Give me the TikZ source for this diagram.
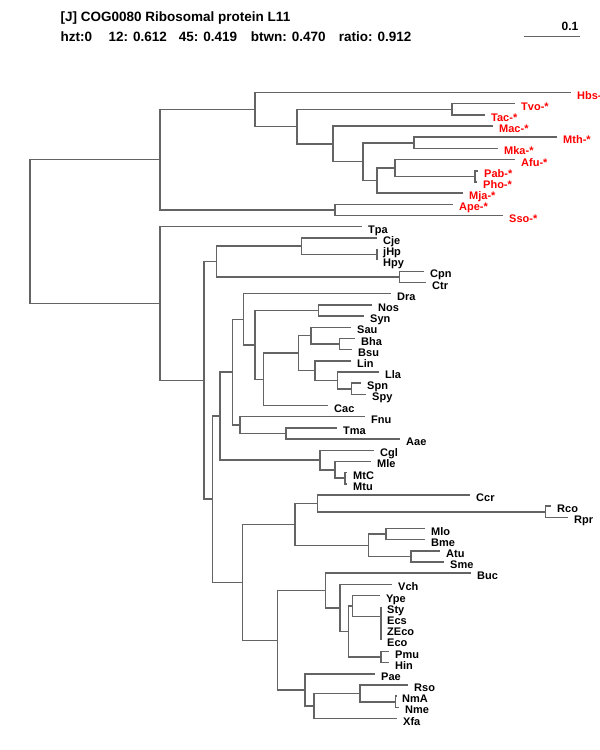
\documentclass[tikz,border=0pt]{standalone}
\usepackage{fontspec}
\setmainfont{Liberation Sans}
\definecolor{treegray}{RGB}{100,100,100}
\definecolor{archred}{RGB}{255,0,0}
\tikzset{
  branch/.style={draw=treegray, line width=1.5pt},
  leaflab/.style={anchor=base west, inner sep=0pt, xshift=6pt, yshift=-6.5pt, font=\fontsize{11}{13}\selectfont\bfseries},
  archlab/.style={leaflab, text=archred},
  bactlab/.style={leaflab, text=black},
  headtxt/.style={anchor=base west, inner sep=0pt, font=\fontsize{13.5}{16}\selectfont\bfseries}
}
\begin{document}
\begin{tikzpicture}[x=1pt, y=-1pt]
\useasboundingbox (0,0) rectangle (600,750);

\node[headtxt] (title) at (60.5,21) {[J] COG0080 Ribosomal protein L11};
\node[headtxt] (hzt) at (60.5,41) {hzt:0};
\node[headtxt] (s12) at (108.3,41) {12: 0.612};
\node[headtxt] (s45) at (178.7,41) {45: 0.419};
\node[headtxt] (btwn) at (250.7,41) {btwn: 0.470};
\node[headtxt] (ratio) at (338.7,41) {ratio: 0.912};

\coordinate (sbl) at (524,36.4);
\coordinate (sbr) at (580,36.4);
\draw[draw=treegray, line width=1.2pt] (sbl) -- (sbr);
\node[anchor=base east, inner sep=0pt, font=\fontsize{12}{14}\selectfont\bfseries] (sblab) at (578.5,30.6) {0.1};

\coordinate (root) at (30,231.6);
\coordinate (arch) at (160,159.7);
\coordinate (bact) at (160,303.55);
\coordinate (a1) at (255,109.5);
\coordinate (a2) at (297,126.56);
\coordinate (tvtc) at (452,109.3);
\coordinate (a3) at (333,143.8);
\coordinate (a4) at (363,161.67);
\coordinate (mtmk) at (414,142.8);
\coordinate (a5) at (377,180.54);
\coordinate (a6) at (395,167.98);
\coordinate (ppho) at (475,176.35);
\coordinate (apso) at (335,209.9);

\coordinate (hbs) at (571,92.5);
\coordinate (tvo) at (515,103.7);
\coordinate (tac) at (485,114.9);
\coordinate (mac) at (493,126.0);
\coordinate (mth) at (557,137.2);
\coordinate (mka) at (498,148.4);
\coordinate (afu) at (515,159.6);
\coordinate (pab) at (478,170.8);
\coordinate (pho) at (477,181.9);
\coordinate (mja) at (463,193.1);
\coordinate (ape) at (453,204.3);
\coordinate (sso) at (503,215.5);

\draw[branch] (root) |- (arch);
\draw[branch] (root) |- (bact);
\draw[branch] (arch) |- (a1);
\draw[branch] (arch) |- (apso);
\draw[branch] (a1) |- (hbs);
\draw[branch] (a1) |- (a2);
\draw[branch] (a2) |- (tvtc);
\draw[branch] (a2) |- (a3);
\draw[branch] (tvtc) |- (tvo);
\draw[branch] (tvtc) |- (tac);
\draw[branch] (a3) |- (mac);
\draw[branch] (a3) |- (a4);
\draw[branch] (a4) |- (mtmk);
\draw[branch] (a4) |- (a5);
\draw[branch] (mtmk) |- (mth);
\draw[branch] (mtmk) |- (mka);
\draw[branch] (a5) |- (a6);
\draw[branch] (a5) |- (mja);
\draw[branch] (a6) |- (afu);
\draw[branch] (a6) |- (ppho);
\draw[branch] (ppho) |- (pab);
\draw[branch] (ppho) |- (pho);
\draw[branch] (apso) |- (ape);
\draw[branch] (apso) |- (sso);

\node[archlab] (lhbs) at (hbs) {Hbs-*};
\node[archlab] (ltvo) at (tvo) {Tvo-*};
\node[archlab] (ltac) at (tac) {Tac-*};
\node[archlab] (lmac) at (mac) {Mac-*};
\node[archlab] (lmth) at (mth) {Mth-*};
\node[archlab] (lmka) at (mka) {Mka-*};
\node[archlab] (lafu) at (afu) {Afu-*};
\node[archlab] (lpab) at (pab) {Pab-*};
\node[archlab] (lpho) at (pho) {Pho-*};
\node[archlab] (lmja) at (mja) {Mja-*};
\node[archlab] (lape) at (ape) {Ape-*};
\node[archlab] (lsso) at (sso) {Sso-*};

\coordinate (b1) at (204,380.4);
\coordinate (b2) at (216.7,261.6);
\coordinate (cjhp) at (301.7,246.2);
\coordinate (hp) at (377,254.6);
\coordinate (chl) at (399.3,277.0);
\coordinate (b3) at (212.7,499.2);
\coordinate (b4) at (220,416.1);
\coordinate (b6) at (232.7,372.2);
\coordinate (b7) at (243.3,319.3);
\coordinate (b9) at (255,344.9);
\coordinate (nssy) at (318.3,310.5);
\coordinate (b10) at (263.3,379.3);
\coordinate (b11) at (298.3,353.15);
\coordinate (b12) at (311,335.7);
\coordinate (bhbs) at (339.3,344.05);
\coordinate (b13) at (315,370.6);
\coordinate (llsp) at (337.7,380.4);
\coordinate (spsp) at (351.7,388.8);
\coordinate (b8) at (240,425.1);
\coordinate (tmaa) at (286,433.5);
\coordinate (cglc) at (320,460.05);
\coordinate (mlmt) at (335,469.8);
\coordinate (mtct) at (345,478.2);
\coordinate (b5) at (242.7,582.3);
\coordinate (b14) at (295,524.35);
\coordinate (ccrr) at (317.7,503.4);
\coordinate (rcrp) at (545.7,511.75);
\coordinate (rhiz) at (368.3,545.3);
\coordinate (mlbm) at (386,534.1);
\coordinate (atsm) at (411,556.5);
\coordinate (b15) at (277.7,640.3);
\coordinate (b16) at (325.7,590.6);
\coordinate (b18) at (340,608.0);
\coordinate (b19) at (348.3,631.6);
\coordinate (ypen) at (352.3,606.1);
\coordinate (ent1) at (381,616.6);
\coordinate (ent2) at (381,626.35);
\coordinate (ent3) at (381,634.7);
\coordinate (pmhi) at (381,657.1);
\coordinate (b17) at (305,689.95);
\coordinate (b20) at (314,706.0);
\coordinate (b21) at (360,693.4);
\coordinate (nmnm) at (395.7,701.8);

\coordinate (tpa) at (362,226.7);
\coordinate (cje) at (377,237.8);
\coordinate (jhp) at (377,249.0);
\coordinate (hpy) at (377,260.2);
\coordinate (cpn) at (424,271.4);
\coordinate (ctr) at (426,282.6);
\coordinate (dra) at (391,293.7);
\coordinate (nos) at (372,304.9);
\coordinate (syn) at (364,316.1);
\coordinate (sau) at (351,327.3);
\coordinate (bha) at (355,338.5);
\coordinate (bsu) at (352,349.6);
\coordinate (lin) at (351,360.8);
\coordinate (lla) at (379,372.0);
\coordinate (spn) at (361,383.2);
\coordinate (spy) at (366,394.4);
\coordinate (cac) at (328,405.5);
\coordinate (fnu) at (365,416.7);
\coordinate (tma) at (337,427.9);
\coordinate (aae) at (400,439.1);
\coordinate (cgl) at (374,450.3);
\coordinate (mle) at (371,461.4);
\coordinate (mtc) at (347,472.6);
\coordinate (mtu) at (347,483.8);
\coordinate (ccr) at (470,495.0);
\coordinate (rco) at (551,506.2);
\coordinate (rpr) at (568,517.3);
\coordinate (mlo) at (425,528.5);
\coordinate (bme) at (425,539.7);
\coordinate (atu) at (440,550.9);
\coordinate (sme) at (444,562.1);
\coordinate (buc) at (471,573.2);
\coordinate (vch) at (392,584.4);
\coordinate (ype) at (380,595.6);
\coordinate (sty) at (381,606.8);
\coordinate (ecs) at (381,618.0);
\coordinate (zeco) at (381,629.1);
\coordinate (eco) at (381,640.3);
\coordinate (pmu) at (389,651.5);
\coordinate (hin) at (389,662.7);
\coordinate (pae) at (375,673.9);
\coordinate (rso) at (408,685.0);
\coordinate (nma) at (396,696.2);
\coordinate (nme) at (399,707.4);
\coordinate (xfa) at (397,718.6);

\draw[branch] (bact) |- (tpa);
\draw[branch] (bact) |- (b1);
\draw[branch] (b1) |- (b2);
\draw[branch] (b1) |- (b3);
\draw[branch] (b2) |- (cjhp);
\draw[branch] (b2) |- (chl);
\draw[branch] (cjhp) |- (cje);
\draw[branch] (cjhp) |- (hp);
\draw[branch] (hp) |- (jhp);
\draw[branch] (hp) |- (hpy);
\draw[branch] (chl) |- (cpn);
\draw[branch] (chl) |- (ctr);
\draw[branch] (b3) |- (b4);
\draw[branch] (b3) |- (b5);
\draw[branch] (b4) |- (b6);
\draw[branch] (b4) |- (cglc);
\draw[branch] (b6) |- (b7);
\draw[branch] (b6) |- (b8);
\draw[branch] (b7) |- (dra);
\draw[branch] (b7) |- (b9);
\draw[branch] (b9) |- (nssy);
\draw[branch] (b9) |- (b10);
\draw[branch] (nssy) |- (nos);
\draw[branch] (nssy) |- (syn);
\draw[branch] (b10) |- (b11);
\draw[branch] (b10) |- (cac);
\draw[branch] (b11) |- (b12);
\draw[branch] (b11) |- (b13);
\draw[branch] (b12) |- (sau);
\draw[branch] (b12) |- (bhbs);
\draw[branch] (bhbs) |- (bha);
\draw[branch] (bhbs) |- (bsu);
\draw[branch] (b13) |- (lin);
\draw[branch] (b13) |- (llsp);
\draw[branch] (llsp) |- (lla);
\draw[branch] (llsp) |- (spsp);
\draw[branch] (spsp) |- (spn);
\draw[branch] (spsp) |- (spy);
\draw[branch] (b8) |- (fnu);
\draw[branch] (b8) |- (tmaa);
\draw[branch] (tmaa) |- (tma);
\draw[branch] (tmaa) |- (aae);
\draw[branch] (cglc) |- (cgl);
\draw[branch] (cglc) |- (mlmt);
\draw[branch] (mlmt) |- (mle);
\draw[branch] (mlmt) |- (mtct);
\draw[branch] (mtct) |- (mtc);
\draw[branch] (mtct) |- (mtu);
\draw[branch] (b5) |- (b14);
\draw[branch] (b5) |- (b15);
\draw[branch] (b14) |- (ccrr);
\draw[branch] (b14) |- (rhiz);
\draw[branch] (ccrr) |- (ccr);
\draw[branch] (ccrr) |- (rcrp);
\draw[branch] (rcrp) |- (rco);
\draw[branch] (rcrp) |- (rpr);
\draw[branch] (rhiz) |- (mlbm);
\draw[branch] (rhiz) |- (atsm);
\draw[branch] (mlbm) |- (mlo);
\draw[branch] (mlbm) |- (bme);
\draw[branch] (atsm) |- (atu);
\draw[branch] (atsm) |- (sme);
\draw[branch] (b15) |- (b16);
\draw[branch] (b15) |- (b17);
\draw[branch] (b16) |- (buc);
\draw[branch] (b16) |- (b18);
\draw[branch] (b18) |- (vch);
\draw[branch] (b18) |- (b19);
\draw[branch] (b19) |- (ypen);
\draw[branch] (b19) |- (pmhi);
\draw[branch] (ypen) |- (ype);
\draw[branch] (ypen) |- (ent1);
\draw[branch] (ent1) |- (sty);
\draw[branch] (ent1) |- (ent2);
\draw[branch] (ent2) |- (ecs);
\draw[branch] (ent2) |- (ent3);
\draw[branch] (ent3) |- (zeco);
\draw[branch] (ent3) |- (eco);
\draw[branch] (pmhi) |- (pmu);
\draw[branch] (pmhi) |- (hin);
\draw[branch] (b17) |- (pae);
\draw[branch] (b17) |- (b20);
\draw[branch] (b20) |- (b21);
\draw[branch] (b20) |- (xfa);
\draw[branch] (b21) |- (rso);
\draw[branch] (b21) |- (nmnm);
\draw[branch] (nmnm) |- (nma);
\draw[branch] (nmnm) |- (nme);

\node[bactlab] (ltpa) at (tpa) {Tpa};
\node[bactlab] (lcje) at (cje) {Cje};
\node[bactlab] (ljhp) at (jhp) {jHp};
\node[bactlab] (lhpy) at (hpy) {Hpy};
\node[bactlab] (lcpn) at (cpn) {Cpn};
\node[bactlab] (lctr) at (ctr) {Ctr};
\node[bactlab] (ldra) at (dra) {Dra};
\node[bactlab] (lnos) at (nos) {Nos};
\node[bactlab] (lsyn) at (syn) {Syn};
\node[bactlab] (lsau) at (sau) {Sau};
\node[bactlab] (lbha) at (bha) {Bha};
\node[bactlab] (lbsu) at (bsu) {Bsu};
\node[bactlab] (llin) at (lin) {Lin};
\node[bactlab] (llla) at (lla) {Lla};
\node[bactlab] (lspn) at (spn) {Spn};
\node[bactlab] (lspy) at (spy) {Spy};
\node[bactlab] (lcac) at (cac) {Cac};
\node[bactlab] (lfnu) at (fnu) {Fnu};
\node[bactlab] (ltma) at (tma) {Tma};
\node[bactlab] (laae) at (aae) {Aae};
\node[bactlab] (lcgl) at (cgl) {Cgl};
\node[bactlab] (lmle) at (mle) {Mle};
\node[bactlab] (lmtc) at (mtc) {MtC};
\node[bactlab] (lmtu) at (mtu) {Mtu};
\node[bactlab] (lccr) at (ccr) {Ccr};
\node[bactlab] (lrco) at (rco) {Rco};
\node[bactlab] (lrpr) at (rpr) {Rpr};
\node[bactlab] (lmlo) at (mlo) {Mlo};
\node[bactlab] (lbme) at (bme) {Bme};
\node[bactlab] (latu) at (atu) {Atu};
\node[bactlab] (lsme) at (sme) {Sme};
\node[bactlab] (lbuc) at (buc) {Buc};
\node[bactlab] (lvch) at (vch) {Vch};
\node[bactlab] (lype) at (ype) {Ype};
\node[bactlab] (lsty) at (sty) {Sty};
\node[bactlab] (lecs) at (ecs) {Ecs};
\node[bactlab] (lzeco) at (zeco) {ZEco};
\node[bactlab] (leco) at (eco) {Eco};
\node[bactlab] (lpmu) at (pmu) {Pmu};
\node[bactlab] (lhin) at (hin) {Hin};
\node[bactlab] (lpae) at (pae) {Pae};
\node[bactlab] (lrso) at (rso) {Rso};
\node[bactlab] (lnma) at (nma) {NmA};
\node[bactlab] (lnme) at (nme) {Nme};
\node[bactlab] (lxfa) at (xfa) {Xfa};
\end{tikzpicture}
\end{document}
